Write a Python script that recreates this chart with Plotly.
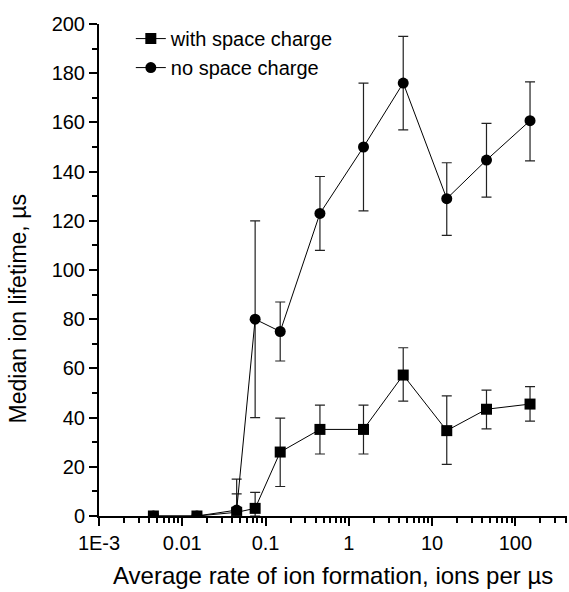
import plotly.graph_objects as go

# x: average rate of ion formation (ions per µs)
rate = [0.0045, 0.015, 0.045, 0.075, 0.15, 0.45, 1.5, 4.5, 15, 45, 150]

# with space charge
with_sc = [0, 0, 1.5, 3.1, 26, 35.2, 35.2, 57.3, 34.7, 43.4, 45.5]
with_sc_up = [0, 0, 7.5, 6.5, 13.8, 9.9, 9.9, 11.1, 14.1, 7.8, 7.1]
with_sc_dn = [0, 0, 1.5, 3.1, 14.0, 10.0, 10.0, 10.6, 13.7, 8.0, 6.9]

# no space charge
no_sc = [0, 0, 2.4, 80, 75, 123, 150, 176, 129, 144.7, 160.7]
no_sc_up = [0, 0, 12.6, 40, 12, 15, 26, 19, 14.6, 14.9, 15.8]
no_sc_dn = [0, 0, 2.4, 40, 12, 15, 26, 19, 14.9, 15.1, 16.3]

xtick_vals = [0.001, 0.01, 0.1, 1, 10, 100]
xtick_text = ["1E-3", "0.01", "0.1", "1", "10", "100"]
ytick_vals = [0, 20, 40, 60, 80, 100, 120, 140, 160, 180, 200]

x_title = "Average rate of ion formation, ions per µs"
y_title = "Median ion lifetime, µs"

FONT = "Liberation Sans, Arial, sans-serif"

fig = go.Figure()

def add_series(y, up, dn, name, symbol):
    fig.add_trace(go.Scatter(
        x=rate, y=y, name=name, mode="lines+markers",
        line=dict(color="black", width=1),
        marker=dict(symbol=symbol, size=11, color="black"),
        error_y=dict(type="data", symmetric=False, array=up, arrayminus=dn,
                     color="#222222", thickness=1.2, width=5),
        cliponaxis=True,
    ))

add_series(with_sc, with_sc_up, with_sc_dn, "with space charge", "square")
add_series(no_sc, no_sc_up, no_sc_dn, "no space charge", "circle")

fig.update_layout(
    width=569, height=592,
    margin=dict(l=99, r=2, t=24, b=76, autoexpand=False),
    paper_bgcolor="white", plot_bgcolor="white",
    font=dict(family=FONT, size=20, color="black"),
    showlegend=True,
    legend=dict(x=0.068, y=1.01, xanchor="left", yanchor="top",
                bgcolor="rgba(0,0,0,0)", font=dict(size=20),
                tracegroupgap=0, itemwidth=30),
    annotations=[
        dict(text=x_title, xref="paper", yref="paper", x=0.5, y=-0.12,
             xanchor="center", yanchor="middle", showarrow=False,
             font=dict(size=24)),
        dict(text=y_title, xref="paper", yref="paper", x=-0.173, y=0.42,
             xanchor="center", yanchor="middle", showarrow=False,
             textangle=-90, font=dict(size=23)),
    ],
)

fig.update_xaxes(
    type="log", range=[-3, 2.62], automargin=False,
    tickvals=xtick_vals, ticktext=xtick_text,
    ticks="outside", ticklen=8, tickwidth=2, tickcolor="black",
    showline=True, linewidth=2, linecolor="black",
    showgrid=False, zeroline=False,
    minor=dict(ticks="outside", ticklen=5, tickwidth=1.5, tickcolor="black",
               dtick="D1", showgrid=False),
    tickfont=dict(size=20),
)

fig.update_yaxes(
    range=[0, 200], tickvals=ytick_vals, automargin=False,
    ticks="outside", ticklen=8, tickwidth=2, tickcolor="black",
    showline=True, linewidth=2, linecolor="black",
    showgrid=False, zeroline=False,
    minor=dict(ticks="outside", ticklen=5, tickwidth=1.5, tickcolor="black",
               dtick=10, showgrid=False),
    tickfont=dict(size=20),
)

fig.write_html("out.html", config={"displayModeBar": False},
               post_script="document.body.style.margin='0';")
